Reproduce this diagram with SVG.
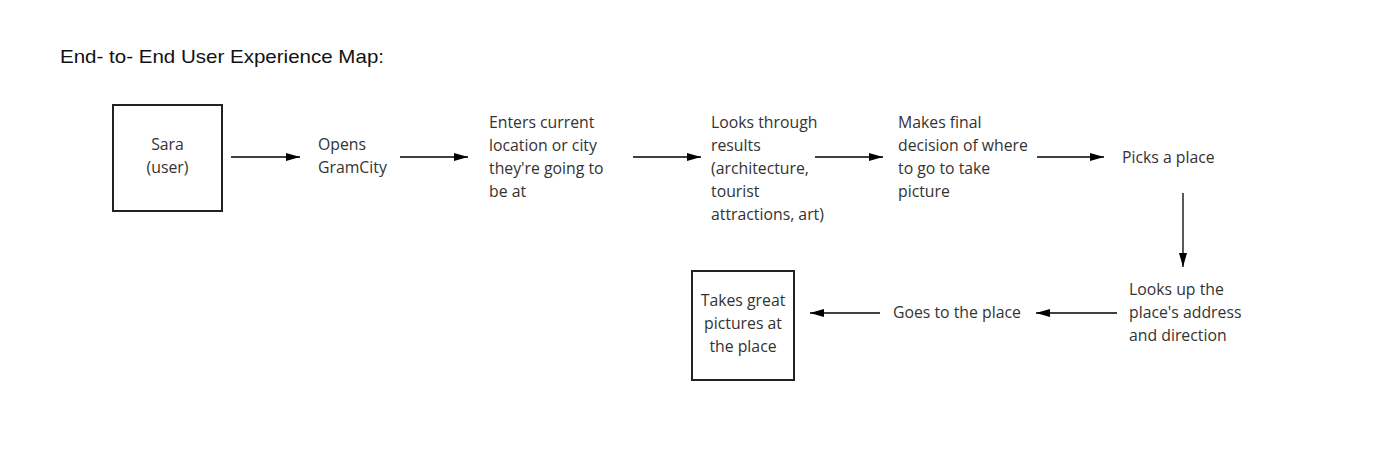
<svg xmlns="http://www.w3.org/2000/svg" width="1390" height="455" viewBox="0 0 1390 455">
<defs>
<marker id="ah" markerWidth="14" markerHeight="8" refX="14" refY="4" orient="auto" markerUnits="userSpaceOnUse">
<path d="M0,0 L14,4 L0,8 Z" fill="#000"/>
</marker>
<style>
.t{font-family:"Open Sans","Noto Sans",sans-serif;font-size:15.8px;fill:#333}
.c{text-anchor:middle}
.box{fill:#fff;stroke:#222;stroke-width:2}
.ln{stroke:#000;stroke-width:1.3;fill:none;marker-end:url(#ah)}
</style>
</defs>
<rect width="1390" height="455" fill="#fff"/>
<text x="60" y="63" font-family="'Liberation Sans','Noto Sans',sans-serif" font-size="19" fill="#111" textLength="324" lengthAdjust="spacingAndGlyphs">End- to- End User Experience Map:</text>
<g id="connectors">
<line class="ln" x1="231" y1="157" x2="300" y2="157"/>
<line class="ln" x1="400" y1="157" x2="468" y2="157"/>
<line class="ln" x1="633" y1="157" x2="701" y2="157"/>
<line class="ln" x1="815" y1="157" x2="883" y2="157"/>
<line class="ln" x1="1037" y1="157" x2="1104" y2="157"/>
<line class="ln" x1="1183" y1="193" x2="1183" y2="267"/>
<line class="ln" x1="1117" y1="313" x2="1036" y2="313"/>
<line class="ln" x1="880" y1="313" x2="810" y2="313"/>
</g>
<g id="sara">
<rect class="box" x="113" y="105" width="109" height="106"/>
<text class="t c" x="167.5" y="150">Sara</text>
<text class="t c" x="167.5" y="173">(user)</text>
</g>
<g id="opens">
<text class="t" x="318" y="150">Opens</text>
<text class="t" x="318" y="173">GramCity</text>
</g>
<g id="enters">
<text class="t" x="489" y="128">Enters current</text>
<text class="t" x="489" y="151">location or city</text>
<text class="t" x="489" y="174">they're going to</text>
<text class="t" x="489" y="197">be at</text>
</g>
<g id="looks">
<text class="t" x="711" y="128">Looks through</text>
<text class="t" x="711" y="151">results</text>
<text class="t" x="711" y="174">(architecture,</text>
<text class="t" x="711" y="197">tourist</text>
<text class="t" x="711" y="220">attractions, art)</text>
</g>
<g id="decide">
<text class="t" x="898" y="128">Makes final</text>
<text class="t" x="898" y="151">decision of where</text>
<text class="t" x="898" y="174">to go to take</text>
<text class="t" x="898" y="197">picture</text>
</g>
<g id="picks">
<text class="t" x="1122" y="163">Picks a place</text>
</g>
<g id="lookup">
<text class="t" x="1129" y="295">Looks up the</text>
<text class="t" x="1129" y="318">place's address</text>
<text class="t" x="1129" y="341">and direction</text>
</g>
<g id="goes">
<text class="t" x="893" y="318">Goes to the place</text>
</g>
<g id="takes">
<rect class="box" x="692" y="271" width="102" height="109"/>
<text class="t c" x="743" y="306">Takes great</text>
<text class="t c" x="743" y="329">pictures at</text>
<text class="t c" x="743" y="352">the place</text>
</g>
</svg>
